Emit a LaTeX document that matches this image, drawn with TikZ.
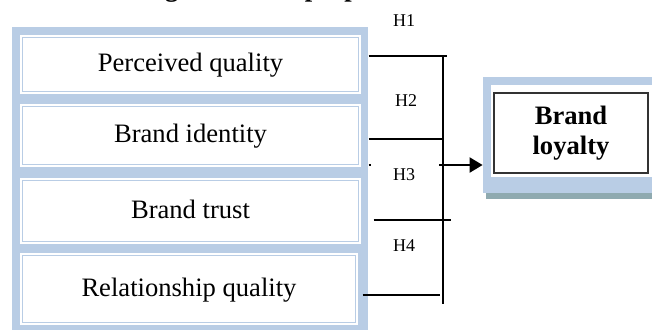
\documentclass[tikz,border=0pt]{standalone}
\usepackage{fontspec}
\setmainfont{Liberation Serif}
\usepackage{tikz}
\usetikzlibrary{arrows.meta,calc,shadows}
\definecolor{boxblue}{RGB}{185,205,229}
\definecolor{shadowteal}{RGB}{143,170,176}

\begin{document}
\begin{tikzpicture}[x=0.5pt, y=-0.5pt,
    factor/.style={rectangle, fill=white, draw=boxblue, line width=0.5pt,
        double=white, double distance=1pt, minimum width=169.5pt,
        text height=0.85em, text depth=0.15em,
        font=\fontsize{13.3}{15}\selectfont},
    link/.style={line width=1.1pt},
    hyp/.style={font=\fontsize{9}{11}\selectfont, inner sep=0pt}]
    \useasboundingbox (0,0) rectangle (652,329);
    \clip (0,0) rectangle (652,329);

    % title, cut off at the top edge
    \node[anchor=base west, inner sep=0pt, font=\fontsize{13.3}{15}\selectfont\bfseries]
        (ttl) at (141,-4) {Figure 1: The proposed model};

    % left column of factors
    \fill[boxblue] (12,27) rectangle (368,340);
    \node[factor, minimum height=28.5pt] (pq) at (190.5,64.5) {Perceived quality};
    \node[factor, minimum height=30.5pt] (bi) at (190.5,135.5) {Brand identity};
    \node[factor, minimum height=32pt] (bt) at (190.5,211) {Brand trust};
    \node[factor, minimum height=35pt, minimum width=168pt] (rq) at (189,289) {Relationship quality};

    % outcome box
    \node[fill=boxblue, minimum width=88.5pt, minimum height=58pt,
        drop shadow={fill=shadowteal, opacity=1, shadow xshift=1.5pt, shadow yshift=-3pt}]
        (blframe) at (571.5,135) {};
    \fill[white] (491,85) rectangle (652,177);
    \node[draw=black!80, line width=0.6pt, minimum width=77pt, minimum height=40pt,
        align=center, font=\fontsize{13.3}{15}\selectfont\bfseries]
        (bl) at (571,133) {Brand\\loyalty};

    % bus lines
    \coordinate (b1) at (447,56);
    \coordinate (b2) at (443,139);
    \coordinate (b3) at (451,220);
    \coordinate (b4) at (440,295);
    \coordinate (bustop) at (443,56);
    \coordinate (busbot) at (443,304);
    \coordinate (a3) at (439,165);
    \coordinate (nub) at (371,165);

    \draw[link] ($(pq.east |- b1)+(8,0)$) -- (b1);
    \draw[link] ($(bi.east |- b2)+(8,0)$) -- (b2);
    \draw[link] ($(bi.east |- nub)+(8,0)$) -- (nub);
    \draw[link] ($(bt.east |- b3)+(13,0)$) -- (b3);
    \draw[link] ($(rq.east |- b4)+(5,0)$) -- (b4);
    \draw[link] (bustop) -- (busbot);
    \draw[link, -{Triangle[length=6.5pt, width=7.5pt]}] (a3) -- (a3 -| blframe.west);

    % hypothesis labels
    \node[hyp] (h1) at (404,21) {H1};
    \node[hyp] (h2) at (406,101) {H2};
    \node[hyp] (h3) at (404,175) {H3};
    \node[hyp] (h4) at (404,246) {H4};
\end{tikzpicture}
\end{document}
